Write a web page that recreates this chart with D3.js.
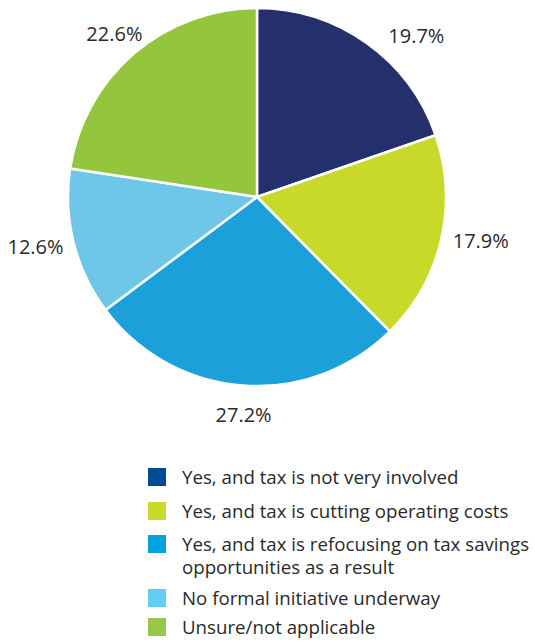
<!DOCTYPE html>
<html><head><meta charset="utf-8">
<script src="https://cdn.jsdelivr.net/npm/d3@7"></script>
<style>body{margin:0;background:#fff}svg{display:block}text{font-family:"Open Sans",sans-serif;fill:#2a2a2a}</style>
</head><body><svg id="c" width="535" height="643"></svg>
<script>
const categories = ["Yes, and tax is not very involved","Yes, and tax is cutting operating costs","Yes, and tax is refocusing on tax savings opportunities as a result","No formal initiative underway","Unsure/not applicable"];
const legendLines = [["Yes, and tax is not very involved"],["Yes, and tax is cutting operating costs"],["Yes, and tax is refocusing on tax savings","opportunities as a result"],["No formal initiative underway"],["Unsure/not applicable"]];
const values = [19.7,17.9,27.2,12.6,22.6];
const labels = ["19.7%","17.9%","27.2%","12.6%","22.6%"];
const sliceColors = ["#24306b","#c9d92a","#1ba0d9","#6ec6e8","#94c63d"];
const legendColors = ["#004b93","#c8d92b","#00a3e0","#62cdf2","#97c74a"];

const svg = d3.select("#c");
const cx = 257, cy = 197, R = 189;
const pie = d3.pie().sort(null).value(d=>d)(values);
const arc = d3.arc().innerRadius(0).outerRadius(R);
const g = svg.append("g").attr("transform",`translate(${cx},${cy})`);
g.selectAll("path").data(pie).join("path")
  .attr("d",arc).attr("fill",(d,i)=>sliceColors[i])
  .attr("stroke","#fff").attr("stroke-width",2.5).attr("stroke-linejoin","round");

// label placement: offsets from mid-angle (radians) and label radius
const shift = [0.161,-0.037,-0.014,0.024,-0.007];
const lr = [226.6,228,218.4,227,217];
g.selectAll("text.lab").data(pie).join("text").attr("class","lab")
  .attr("text-anchor","middle").attr("dy","0.36em")
  .style("font-size","20px")
  .attr("x",(d,i)=>Math.sin((d.startAngle+d.endAngle)/2+shift[i])*lr[i])
  .attr("y",(d,i)=>-Math.cos((d.startAngle+d.endAngle)/2+shift[i])*lr[i])
  .text((d,i)=>labels[i]);

const ly = [468,502,535,589,618];
const lg = svg.append("g");
legendLines.forEach((lines,i)=>{
  lg.append("rect").attr("x",148).attr("y",ly[i]).attr("width",18).attr("height",18).attr("fill",legendColors[i]);
  const t = lg.append("text").attr("x",182).attr("y",ly[i]+15.5).style("font-size","18.7px");
  lines.forEach((l,j)=>t.append("tspan").attr("x",182).attr("dy",j?23:0).text(l));
});
</script></body></html>
